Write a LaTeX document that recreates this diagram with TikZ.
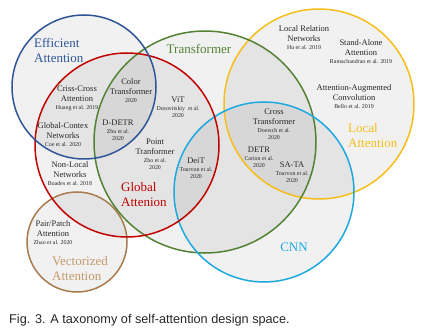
\documentclass[tikz,border=0pt]{standalone}
\usepackage{fontspec}
\setmainfont{Liberation Serif}
\newfontfamily\capfont{Liberation Sans}
\definecolor{cblue}{HTML}{2F5597}
\definecolor{cred}{HTML}{C00000}
\definecolor{cgreen}{HTML}{548235}
\definecolor{cyellow}{HTML}{F5BE1C}
\definecolor{ccyan}{HTML}{1EA8DF}
\definecolor{cbrown}{HTML}{A97C50}
\definecolor{tbrown}{HTML}{C49A6C}
\definecolor{ttext}{HTML}{262626}
\newcommand{\ct}[1]{{\fontsize{5.9}{6.5}\selectfont #1}}
\tikzset{
  setfill/.style={fill=black, fill opacity=0.055, draw=none},
  ring/.style={line width=1.5pt},
  lab/.style={font=\fontsize{8.5}{10}\selectfont, align=center, inner sep=0pt, text=ttext},
  ttl/.style={font=\fontsize{13}{15}\selectfont, inner sep=0pt},
}
\begin{document}
\begin{tikzpicture}[x=1pt,y=-1pt]
\useasboundingbox (0,0) rectangle (423,331);
% fills
\fill[setfill] (84,87) circle (72);
\fill[setfill] (127,145) circle (92);
\fill[setfill] (205,142) circle (111);
\fill[setfill] (319,104) circle (95);
\fill[setfill] (264,192) circle (90);
\fill[setfill] (77,242) circle (50);
% outlines
\draw[ring, cbrown] (77,242) circle (50);
\draw[ring, cyellow] (319,104) circle (95);
\draw[ring, cgreen] (205,142) circle (111);
\draw[ring, ccyan] (264,192) circle (90);
\draw[ring, cred] (127,145) circle (92);
\draw[ring, cblue] (84,87) circle (72);
% titles
\node[ttl, text=cblue, anchor=west, align=left] (teff) at (34,50) {Efficient\\Attention};
\node[ttl, text=cgreen] (ttra) at (199,49) {Transformer};
\node[ttl, text=cyellow, anchor=west, align=left] (tloc) at (348,136) {Local\\Attention};
\node[ttl, text=cred, anchor=west, align=left] (tglo) at (121,195) {Global\\Attenion};
\node[ttl, text=tbrown, anchor=west, align=left] (tvec) at (52,269) {Vectorized\\Attention};
\node[ttl, text=ccyan] (tcnn) at (294,247) {CNN};
% labels
\node[lab] (ccnet) at (77,98) {Criss-Cross\\Attention\\[-2pt]\ct{Huang et al. 2019}};
\node[lab] (gcnet) at (63,135) {Global-Contex\\Networks\\[-2pt]\ct{Coe et al. 2020}};
\node[lab] (color) at (131,91) {Color\\Transformer\\[-2pt]\ct{2020}};
\node[lab] (vit) at (178,107) {ViT\\[-2pt]\ct{Dosovitskiy\ \ et al.}\\[-3pt]\ct{2020}};
\node[lab] (ddetr) at (118,130) {D-DETR\\[-2pt]\ct{Zhu et al.}\\[-3pt]\ct{2020}};
\node[lab] (point) at (155,154) {Point\\Tranformer\\[-2pt]\ct{Zho et al.}\\[-3pt]\ct{2020}};
\node[lab] (deit) at (196,168) {DeiT\\[-2pt]\ct{Tourvon et al.}\\[-3pt]\ct{2020}};
\node[lab] (nonlocal) at (70,174) {Non-Local\\Networks\\[-2pt]\ct{Buades et al. 2018}};
\node[lab] (pair) at (53,233) {Pair/Patch\\Attention\\[-2pt]\ct{Zhao et al. 2020}};
\node[lab] (lrnet) at (304,38) {Local Relation\\Networks\\[-2pt]\ct{Hu et al. 2019}};
\node[lab] (sasa) at (361,52) {Stand-Alone\\Attention\\[-2pt]\ct{Ramachandran et al. 2019}};
\node[lab] (aac) at (354,97) {Attention-Augmented\\Convolution\\[-2pt]\ct{Bello et al. 2019}};
\node[lab] (cross) at (274,124) {Cross\\Transformer\\[-2pt]\ct{Doersch et al.}\\[-3pt]\ct{2020}};
\node[lab] (detr) at (259,157) {DETR\\[-2pt]\ct{Carion et al.}\\[-3pt]\ct{2020}};
\node[lab] (sata) at (292,172) {SA-TA\\[-2pt]\ct{Tourvon et al.}\\[-3pt]\ct{2020}};
% caption
\node[font=\capfont\fontsize{12.7}{14}\selectfont, anchor=west, inner sep=0pt, text=black!85] (cap) at (9,320) {Fig. 3. A taxonomy of self-attention design space.};
\end{tikzpicture}
\end{document}
